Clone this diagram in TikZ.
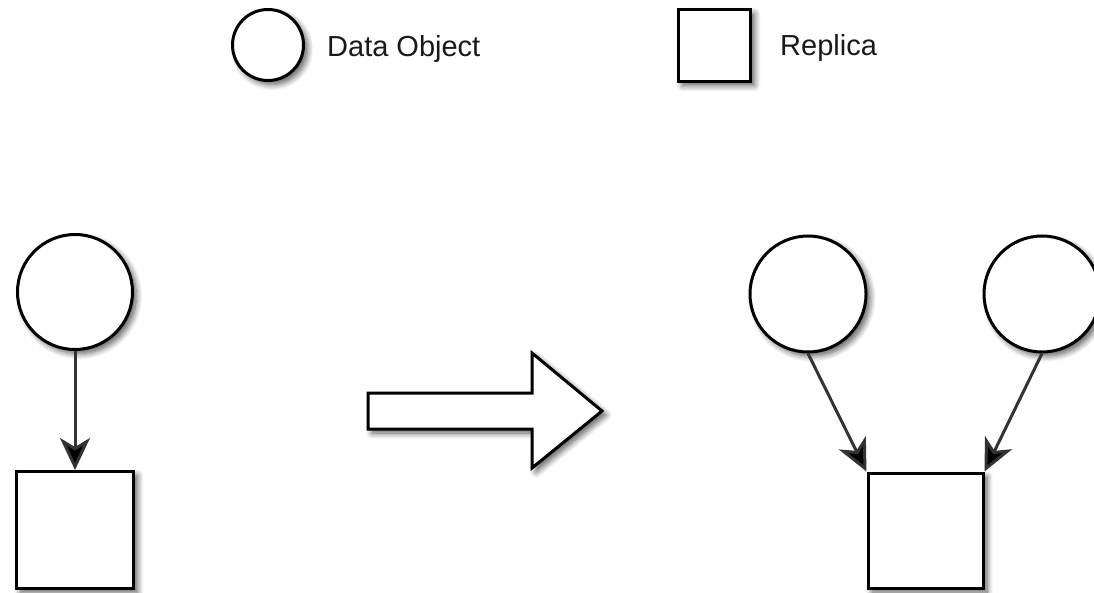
\documentclass[tikz,border=0pt]{standalone}
\usepackage{fontspec}
\setmainfont{Liberation Sans}
\usetikzlibrary{arrows.meta,shadows.blur}
\begin{document}
\begin{tikzpicture}[x=1pt,y=-1pt,
  shad/.style={blur shadow={shadow xshift=4pt,shadow yshift=-4pt,shadow blur radius=6pt,shadow opacity=65,shadow blur steps=8}},
  obj/.style={circle,draw=black,line width=3pt,fill=white,inner sep=0pt,minimum size=#1,shad},
  rep/.style={rectangle,draw=black,line width=3pt,fill=white,inner sep=0pt,minimum size=#1,shad},
  conn/.style={line width=3pt,draw=black!80,-{Stealth[length=32pt,width=30pt,inset=9pt,fill=black]}},
  lbl/.style={inner sep=0pt,anchor=base west,text=black!90,font=\fontsize{29}{34}\selectfont}]
\useasboundingbox (0,0) rectangle (1094,593);
\begin{scope}
\clip (0,0) rectangle (1094,593);
% legend
\node[obj=71pt] (lc) at (268,45) {};
\node[lbl] (lct) at (327,57) {Data Object};
\node[rep=72pt] (ls) at (714.5,45.5) {};
\node[lbl] (lst) at (780,56) {Replica};
% left
\node[obj=115pt] (c1) at (75,292) {};
\node[rep=117pt] (s1) at (75,530) {};
\draw[conn] (c1.south) -- (s1.north);
% big arrow
\draw[line width=3pt,fill=white,line join=miter,shad]
  (368,393) -- (532,393) -- (532,353) -- (602,411) -- (532,468) -- (532,429) -- (368,429) -- cycle;
% right
\node[obj=116pt] (c2) at (808,294) {};
\node[obj=116pt] (c3) at (1042,294) {};
\node[rep=115pt] (s2) at (925.5,530.5) {};
\draw[conn] (c2.south) -- (s2.north west);
\draw[conn] (c3.south) -- (s2.north east);
\end{scope}
\end{tikzpicture}
\end{document}
